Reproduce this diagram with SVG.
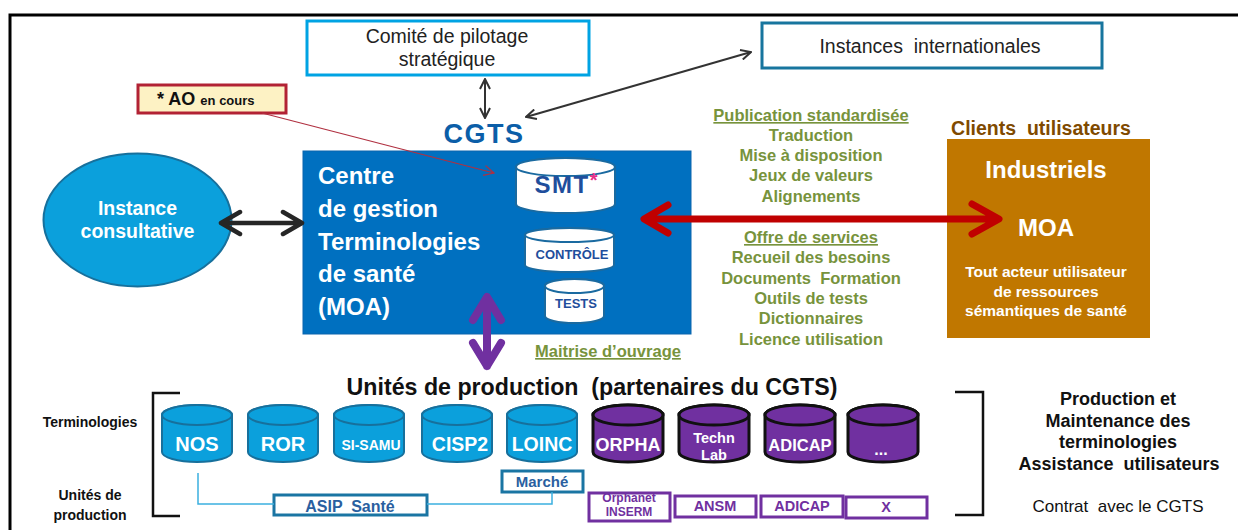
<svg xmlns="http://www.w3.org/2000/svg" width="1238" height="530" viewBox="0 0 1238 530">
  <style>
    text { font-family: "Liberation Sans", Arial, sans-serif; }
    .b { font-weight: bold; }
    .mid { text-anchor: middle; }
    .pre { white-space: pre; }
    .green { fill: #77933c; font-weight: bold; font-size: 16.5px; text-anchor: middle; }
    .ul { text-decoration: underline; }
    .cylBlue { fill: #0ba0dc; stroke: #17709c; stroke-width: 2; }
    .cylPurple { fill: #7030a0; stroke: #111; stroke-width: 3; }
    .cylWhite { fill: #ffffff; stroke: #1a6aa0; stroke-width: 2; }
    .cylTxt { fill: #ffffff; font-weight: bold; text-anchor: middle; }
    .smtTxt { fill: #1f4e9c; font-weight: bold; text-anchor: middle; }
    .tagBlue { fill: #ffffff; stroke: #1a75a3; stroke-width: 3; }
    .tagPurple { fill: #ffffff; stroke: #7030a0; stroke-width: 3; }
    .tagBlueTxt { fill: #2a5fa0; font-weight: bold; text-anchor: middle; }
    .tagPurpleTxt { fill: #7030a0; font-weight: bold; text-anchor: middle; }
    .thin { fill: none; stroke: #333333; stroke-width: 2; }
  </style>
  <defs>
    <marker id="chev" viewBox="0 0 12 12" refX="11" refY="6" markerWidth="12" markerHeight="12" markerUnits="userSpaceOnUse" orient="auto-start-reverse">
      <path d="M1,1 L11,6 L1,11" fill="none" stroke="#333333" stroke-width="2"/>
    </marker>
    <marker id="chevRed" viewBox="0 0 12 12" refX="11" refY="6" markerWidth="12" markerHeight="12" markerUnits="userSpaceOnUse" orient="auto">
      <path d="M1,1 L11,6 L1,11" fill="none" stroke="#b03040" stroke-width="1.2"/>
    </marker>
  </defs>

  <!-- outer frame (top and left edges) -->
  <path d="M10,530 V15 H1238" fill="none" stroke="#000" stroke-width="3"/>

  <g id="comite">
    <rect x="307" y="21" width="282" height="54" fill="#fff" stroke="#00a3e3" stroke-width="3"/>
    <text x="447" y="43" class="mid" font-size="19.5" fill="#222">Comité de pilotage</text>
    <text x="447" y="66" class="mid" font-size="19.5" fill="#222">stratégique</text>
  </g>

  <g id="instances-internationales">
    <rect x="762" y="23" width="340" height="45" fill="#fff" stroke="#17759e" stroke-width="3"/>
    <text x="930" y="53" class="mid pre" font-size="19.5" fill="#222">Instances  internationales</text>
  </g>

  <g id="ao">
    <rect x="138" y="85" width="148" height="28" fill="#fdf2c4" stroke="#b22234" stroke-width="3"/>
    <text x="157" y="105" class="b" font-size="18" fill="#111">* AO <tspan font-size="13">en cours</tspan></text>
  </g>

  <g id="cgts-label">
    <text x="484" y="143" class="b mid" font-size="27" fill="#0b5ea8" letter-spacing="1.5">CGTS</text>
  </g>

  <g id="instance-consultative">
    <ellipse cx="137.5" cy="220" rx="94" ry="66.5" fill="#0ba0dc" stroke="#17709c" stroke-width="2"/>
    <text x="137.5" y="215" class="b mid" font-size="19.5" fill="#fff">Instance</text>
    <text x="137.5" y="238" class="b mid" font-size="19.5" fill="#fff">consultative</text>
  </g>

  <g id="centre-gestion">
    <rect x="303" y="151" width="388" height="183" fill="#0070c0" stroke="#0a64ad" stroke-width="1"/>
    <text x="318" y="184" class="b" font-size="24" fill="#fff">Centre</text>
    <text x="318" y="217" class="b" font-size="24" fill="#fff">de gestion</text>
    <text x="318" y="250" class="b" font-size="24" fill="#fff">Terminologies</text>
    <text x="318" y="282" class="b" font-size="24" fill="#fff">de santé</text>
    <text x="318" y="315" class="b" font-size="24" fill="#fff">(MOA)</text>
  </g>

  <g id="smt">
    <path class="cylWhite" d="M516,167 A49.5,9 0 0 1 615,167 V204 A49.5,9 0 0 1 516,204 Z"/>
    <ellipse class="cylWhite" cx="565.5" cy="167" rx="49.5" ry="9"/>
    <text x="566" y="193" class="smtTxt" font-size="24" letter-spacing="1.5">SMT<tspan fill="#e8308a" font-size="20" dy="-6" letter-spacing="0">*</tspan></text>
  </g>

  <g id="controle">
    <path class="cylWhite" d="M525,235 A44.5,7 0 0 1 614,235 V265 A44.5,7 0 0 1 525,265 Z"/>
    <ellipse class="cylWhite" cx="569.5" cy="235" rx="44.5" ry="7"/>
    <text x="572" y="259" class="smtTxt" font-size="13">CONTRÔLE</text>
  </g>

  <g id="tests">
    <path class="cylWhite" d="M545,286 A29.5,7 0 0 1 604,286 V316 A29.5,7 0 0 1 545,316 Z"/>
    <ellipse class="cylWhite" cx="574.5" cy="286" rx="29.5" ry="7"/>
    <text x="576" y="308" class="smtTxt" font-size="13">TESTS</text>
  </g>

  <g id="services">
    <text x="811" y="121" class="green ul">Publication standardisée</text>
    <text x="811" y="141" class="green">Traduction</text>
    <text x="811" y="161" class="green">Mise à disposition</text>
    <text x="811" y="181" class="green">Jeux de valeurs</text>
    <text x="811" y="202" class="green">Alignements</text>
    <text x="811" y="243" class="green ul">Offre de services</text>
    <text x="811" y="263" class="green">Recueil des besoins</text>
    <text x="811" y="284" class="green pre">Documents  Formation</text>
    <text x="811" y="304" class="green">Outils de tests</text>
    <text x="811" y="324" class="green">Dictionnaires</text>
    <text x="811" y="345" class="green">Licence utilisation</text>
    <text x="608" y="357" class="green ul" font-size="15.5">Maitrise d’ouvrage</text>
  </g>

  <g id="clients">
    <text x="1041" y="135" class="b mid pre" font-size="19.5" fill="#7f4a00">Clients  utilisateurs</text>
    <rect x="947" y="139" width="203" height="199" fill="#c07700"/>
    <text x="1046" y="178" class="b mid" font-size="24" fill="#fff">Industriels</text>
    <text x="1046" y="236" class="b mid" font-size="24" fill="#fff">MOA</text>
    <text x="1046" y="277" class="b mid" font-size="15.5" fill="#fff">Tout acteur utilisateur</text>
    <text x="1046" y="297" class="b mid" font-size="15.5" fill="#fff">de ressources</text>
    <text x="1046" y="316" class="b mid" font-size="15.5" fill="#fff">sémantiques de santé</text>
  </g>

  <g id="unites-production">
    <text x="592" y="395" class="b mid pre" font-size="23.2" fill="#111">Unités de production  (partenaires du CGTS)</text>
    <text x="90" y="427" class="b mid" font-size="14" fill="#111">Terminologies</text>
    <text x="90" y="500" class="b mid" font-size="14" fill="#111">Unités de</text>
    <text x="90" y="520" class="b mid" font-size="14" fill="#111">production</text>
    <path d="M180,393 H153 V516 H180" fill="none" stroke="#111" stroke-width="2.5"/>
    <path d="M955,392 H983 V515 H955" fill="none" stroke="#111" stroke-width="2.5"/>
  </g>

  <g id="cyl-nos">
    <path class="cylBlue" d="M162,415 A35,10 0 0 1 232,415 V452 A35,10 0 0 1 162,452 Z"/>
    <ellipse class="cylBlue" cx="197" cy="415" rx="35" ry="10"/>
    <text x="197" y="451" class="cylTxt" font-size="20">NOS</text>
  </g>
  <g id="cyl-ror">
    <path class="cylBlue" d="M248,415 A35,10 0 0 1 318,415 V452 A35,10 0 0 1 248,452 Z"/>
    <ellipse class="cylBlue" cx="283" cy="415" rx="35" ry="10"/>
    <text x="283" y="451" class="cylTxt" font-size="20">ROR</text>
  </g>
  <g id="cyl-sisamu">
    <path class="cylBlue" d="M334,415 A35,10 0 0 1 404,415 V452 A35,10 0 0 1 334,452 Z"/>
    <ellipse class="cylBlue" cx="369" cy="415" rx="35" ry="10"/>
    <text x="371" y="450" class="cylTxt" font-size="14">SI-SAMU</text>
  </g>
  <g id="cyl-cisp2">
    <path class="cylBlue" d="M422,415 A35,10 0 0 1 492,415 V452 A35,10 0 0 1 422,452 Z"/>
    <ellipse class="cylBlue" cx="457" cy="415" rx="35" ry="10"/>
    <text x="460" y="451" class="cylTxt" font-size="19.5">CISP2</text>
  </g>
  <g id="cyl-loinc">
    <path class="cylBlue" d="M507,415 A35,10 0 0 1 577,415 V452 A35,10 0 0 1 507,452 Z"/>
    <ellipse class="cylBlue" cx="542" cy="415" rx="35" ry="10"/>
    <text x="542" y="451" class="cylTxt" font-size="19.5">LOINC</text>
  </g>
  <g id="cyl-orpha">
    <path class="cylPurple" d="M593,415 A35,10 0 0 1 663,415 V452 A35,10 0 0 1 593,452 Z"/>
    <ellipse class="cylPurple" cx="628" cy="415" rx="35" ry="10"/>
    <text x="628" y="451" class="cylTxt" font-size="18">ORPHA</text>
  </g>
  <g id="cyl-technlab">
    <path class="cylPurple" d="M679,415 A35,10 0 0 1 749,415 V452 A35,10 0 0 1 679,452 Z"/>
    <ellipse class="cylPurple" cx="714" cy="415" rx="35" ry="10"/>
    <text x="714" y="443" class="cylTxt" font-size="14.5">Techn</text>
    <text x="714" y="460" class="cylTxt" font-size="14.5">Lab</text>
  </g>
  <g id="cyl-adicap">
    <path class="cylPurple" d="M765,415 A35,10 0 0 1 835,415 V452 A35,10 0 0 1 765,452 Z"/>
    <ellipse class="cylPurple" cx="800" cy="415" rx="35" ry="10"/>
    <text x="800" y="451" class="cylTxt" font-size="16.5">ADICAP</text>
  </g>
  <g id="cyl-more">
    <path class="cylPurple" d="M848,415 A35,10 0 0 1 918,415 V452 A35,10 0 0 1 848,452 Z"/>
    <ellipse class="cylPurple" cx="883" cy="415" rx="35" ry="10"/>
    <text x="881" y="455" class="cylTxt" font-size="16">...</text>
  </g>

  <g id="tag-asip">
    <rect class="tagBlue" x="274" y="495" width="153" height="20"/>
    <text x="350" y="512" class="tagBlueTxt pre" font-size="16">ASIP  Santé</text>
  </g>
  <g id="tag-marche">
    <rect class="tagBlue" x="502" y="471" width="81" height="21"/>
    <text x="542" y="487" class="tagBlueTxt" font-size="15">Marché</text>
  </g>
  <g id="tag-orphanet">
    <rect class="tagPurple" x="589" y="493" width="81" height="28"/>
    <text x="629" y="502" class="tagPurpleTxt" font-size="12">Orphanet</text>
    <text x="629" y="516" class="tagPurpleTxt" font-size="12">INSERM</text>
  </g>
  <g id="tag-ansm">
    <rect class="tagPurple" x="675" y="496" width="81" height="21"/>
    <text x="715" y="511" class="tagPurpleTxt" font-size="14.5">ANSM</text>
  </g>
  <g id="tag-adicap">
    <rect class="tagPurple" x="761" y="496" width="82" height="21"/>
    <text x="802" y="511" class="tagPurpleTxt" font-size="14.5">ADICAP</text>
  </g>
  <g id="tag-x">
    <rect class="tagPurple" x="846" y="497" width="81" height="21"/>
    <text x="886" y="512" class="tagPurpleTxt" font-size="14.5">X</text>
  </g>

  <g id="production-maintenance">
    <text x="1118" y="405" class="b mid" font-size="18" fill="#111">Production et</text>
    <text x="1118" y="427" class="b mid" font-size="18" fill="#111">Maintenance des</text>
    <text x="1118" y="448" class="b mid" font-size="18" fill="#111">terminologies</text>
    <text x="1119" y="470" class="b mid pre" font-size="18" fill="#111">Assistance  utilisateurs</text>
    <text x="1118" y="512" class="mid pre" font-size="17" fill="#111">Contrat  avec le CGTS</text>
  </g>

  <g id="connectors">
    <!-- comité <-> CGTS -->
    <line class="thin" x1="485" y1="79" x2="485" y2="118" marker-start="url(#chev)" marker-end="url(#chev)"/>
    <!-- CGTS <-> instances internationales -->
    <line class="thin" x1="526" y1="117" x2="751" y2="52" marker-start="url(#chev)" marker-end="url(#chev)"/>
    <!-- AO note pointer to SMT -->
    <line x1="262" y1="113" x2="494" y2="173" stroke="#b03040" stroke-width="1.2" marker-end="url(#chevRed)"/>
    <!-- instance consultative <-> centre -->
    <path d="M222,223 H301 M240,212 L221,223 L240,234 M283,212 L302,223 L283,234" fill="none" stroke="#262626" stroke-width="4.5" stroke-linecap="round" stroke-linejoin="round"/>
    <!-- centre <-> clients -->
    <path d="M645,219 H998 M668,205 L644,219 L668,233 M972,204 L999,219 L972,234" fill="none" stroke="#c00000" stroke-width="7" stroke-linecap="round" stroke-linejoin="round"/>
    <!-- centre <-> unités de production -->
    <path d="M487,298 V366 M473,320 L487,297 L501,320 M473,343 L487,366 L501,343" fill="none" stroke="#7030a0" stroke-width="8" stroke-linecap="round" stroke-linejoin="round"/>
    <!-- ASIP links -->
    <path d="M198,473 V504 H274" fill="none" stroke="#3bb0e0" stroke-width="1.5"/>
    <path d="M427,504 H552 V492" fill="none" stroke="#3bb0e0" stroke-width="1.5"/>
  </g>
</svg>
